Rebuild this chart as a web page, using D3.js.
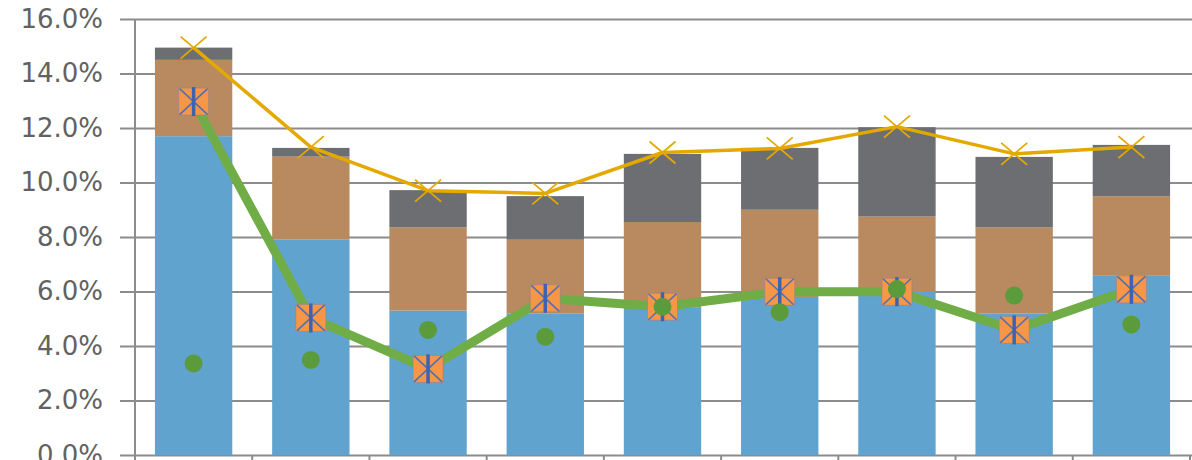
<!DOCTYPE html>
<html>
<head>
<meta charset="utf-8">
<script src="https://cdn.jsdelivr.net/npm/d3@7"></script>
<style>
  html, body { margin: 0; padding: 0; background: #ffffff; }
  svg { display: block; }
</style>
</head>
<body>
<svg id="chart" width="1192" height="460"></svg>
<script>
// Categories (periods along the horizontal axis)
const categories = ["1", "2", "3", "4", "5", "6", "7", "8", "9"];

// Stacked bar components, in percent
const seriesBase   = [11.7, 7.9, 5.3, 5.2, 5.4, 5.8, 6.0, 5.2, 6.6];
const seriesMiddle = [2.8, 3.05, 3.05, 2.7, 3.15, 3.2, 2.75, 3.15, 2.9];
const seriesTop    = [0.45, 0.32, 1.37, 1.6, 2.5, 2.27, 3.28, 2.59, 1.88];

// Line series, in percent
const lineTotal  = [14.95, 11.3, 9.7, 9.6, 11.1, 11.25, 12.05, 11.05, 11.3];
const lineMain   = [12.97, 5.03, 3.16, 5.75, 5.44, 5.99, 5.99, 4.59, 6.08];

// Scatter points, in percent
const dots = [3.36, 3.49, 4.59, 4.34, 5.44, 5.24, 6.09, 5.85, 4.79];

// Value axis ticks
const yTicks = [0, 2, 4, 6, 8, 10, 12, 14, 16];

const W = 1192, H = 460;
const plot = { left: 135, right: 1190, top: 19, bottom: 455 };

const svg = d3.select("#chart");

const x = d3.scaleBand()
  .domain(categories)
  .range([plot.left, plot.right])
  .paddingInner(0.34)
  .paddingOuter(0.17);

const y = d3.scaleLinear()
  .domain([0, 16])
  .range([plot.bottom, plot.top]);

const gridColor = "#8c8c8c";

// Horizontal gridlines with tick labels
const yAxis = d3.axisLeft(y)
  .tickValues(yTicks)
  .tickSize(-(W - 120))
  .tickPadding(17)
  .tickFormat(d => d.toFixed(1) + "%");

const gy = svg.append("g")
  .attr("transform", "translate(120,0)")
  .call(yAxis);
gy.select(".domain").remove();
gy.selectAll(".tick line")
  .attr("stroke", gridColor)
  .attr("stroke-width", 2);
gy.selectAll(".tick text")
  .attr("fill", "#626262")
  .style("font-family", "'DejaVu Sans', sans-serif")
  .style("font-size", "26px");

// Vertical axis line
svg.append("line")
  .attr("x1", plot.left).attr("x2", plot.left)
  .attr("y1", y(16)).attr("y2", plot.bottom + 6)
  .attr("stroke", gridColor).attr("stroke-width", 2);

// Category boundary ticks along the bottom
const step = x.step();
const boundaries = d3.range(categories.length + 1).map(i => plot.left + i * step);
svg.append("g").selectAll("line")
  .data(boundaries)
  .join("line")
  .attr("x1", d => d).attr("x2", d => d)
  .attr("y1", plot.bottom).attr("y2", plot.bottom + 6)
  .attr("stroke", gridColor).attr("stroke-width", 2);

// Stacked bars
const rows = categories.map((c, i) => ({
  cat: c, base: seriesBase[i], middle: seriesMiddle[i], top: seriesTop[i]
}));
const stack = d3.stack().keys(["base", "middle", "top"])(rows);
const barColors = { base: "#61a3cf", middle: "#b98a5f", top: "#6d6e72" };

svg.append("g").selectAll("g")
  .data(stack)
  .join("g")
  .attr("fill", d => barColors[d.key])
  .selectAll("rect")
  .data(d => d)
  .join("rect")
  .attr("x", d => x(d.data.cat))
  .attr("width", x.bandwidth())
  .attr("y", d => y(d[1]))
  .attr("height", d => y(d[0]) - y(d[1]));

const cx = c => x(c) + x.bandwidth() / 2;

// Golden total line with cross markers
const gold = "#e3a900";
svg.append("path")
  .datum(lineTotal)
  .attr("fill", "none")
  .attr("stroke", gold)
  .attr("stroke-width", 3.5)
  .attr("stroke-linejoin", "round")
  .attr("d", d3.line().x((d, i) => cx(categories[i])).y(d => y(d)));

svg.append("g").selectAll("path")
  .data(lineTotal)
  .join("path")
  .attr("transform", (d, i) => `translate(${cx(categories[i])},${y(d)})`)
  .attr("d", "M-13,-11L13,11M-13,11L13,-11")
  .attr("stroke", gold)
  .attr("stroke-width", 1.8)
  .attr("fill", "none");

// Green main line
svg.append("path")
  .datum(lineMain)
  .attr("fill", "none")
  .attr("stroke", "#70ad47")
  .attr("stroke-width", 9)
  .attr("stroke-linejoin", "round")
  .attr("d", d3.line().x((d, i) => cx(categories[i])).y(d => y(d)));

// Square markers with asterisks
const mk = svg.append("g").selectAll("g")
  .data(lineMain)
  .join("g")
  .attr("transform", (d, i) => `translate(${cx(categories[i])},${y(d)})`);
mk.append("rect")
  .attr("x", -15).attr("y", -13.5)
  .attr("width", 30).attr("height", 27)
  .attr("fill", "#f79646")
  .attr("stroke", "#8a7fa0")
  .attr("stroke-opacity", 0.5)
  .attr("stroke-width", 1);
mk.append("path")
  .attr("d", "M-14,-13L14,13M-14,13L14,-13")
  .attr("stroke", "#5070b4")
  .attr("stroke-width", 1.6);
mk.append("path")
  .attr("d", "M0,-14.5L0,14.5")
  .attr("stroke", "#3f62b0")
  .attr("stroke-width", 3.5);

// Scatter dots
svg.append("g").selectAll("circle")
  .data(dots)
  .join("circle")
  .attr("cx", (d, i) => cx(categories[i]))
  .attr("cy", d => y(d))
  .attr("r", 9)
  .attr("fill", "#5c9b3b");
</script>
</body>
</html>
